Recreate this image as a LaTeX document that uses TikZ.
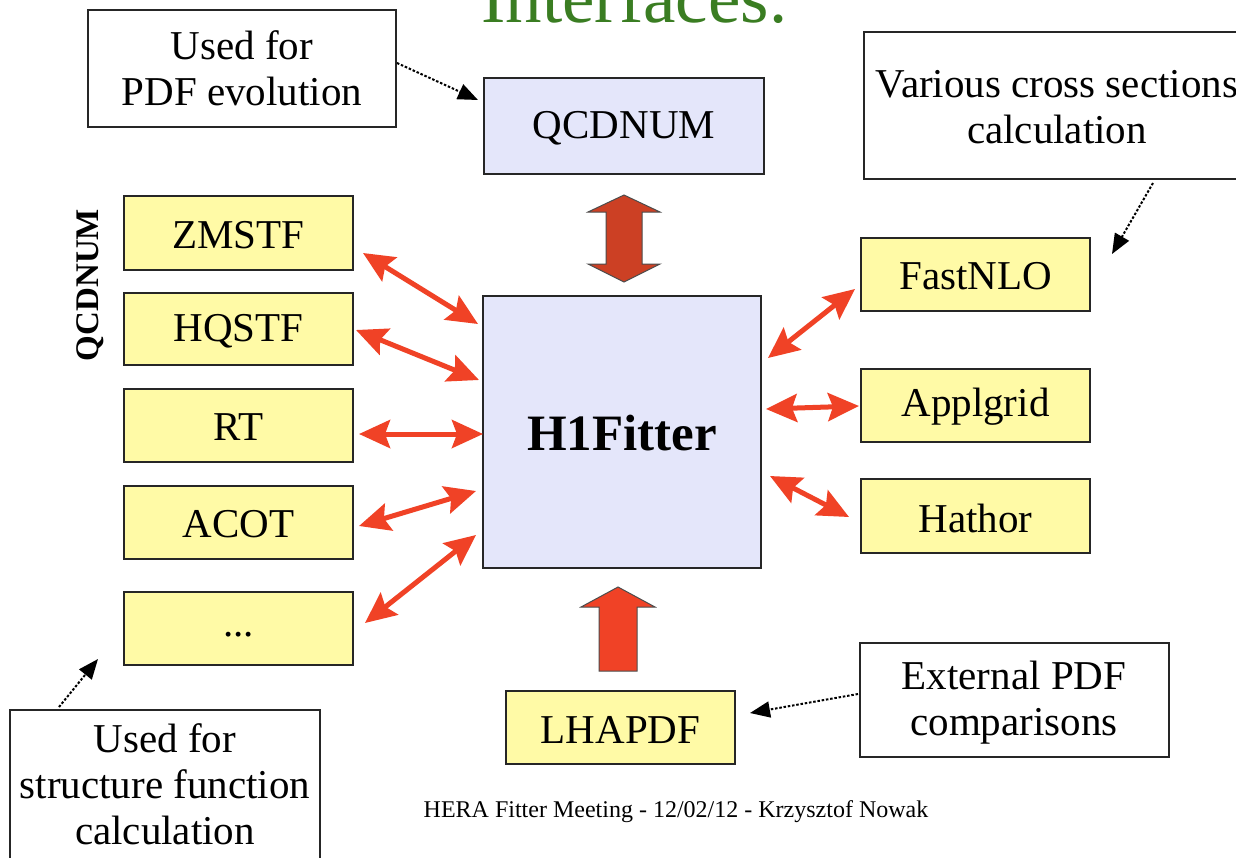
\documentclass[tikz,border=0pt]{standalone}
\usepackage{fontspec}
\setmainfont{Liberation Serif}
\usetikzlibrary{arrows.meta}
\definecolor{boxyellow}{RGB}{255,250,166}
\definecolor{boxblue}{RGB}{228,230,250}
\definecolor{arrred}{RGB}{240,66,38}
\definecolor{darkarr}{RGB}{204,64,36}
\definecolor{titlegreen}{RGB}{58,125,34}
\tikzset{
  box/.style={draw=black!85, line width=1.5pt, inner sep=0pt},
  ybox/.style={box, fill=boxyellow},
  bbox/.style={box, fill=boxblue},
  wbox/.style={box, fill=white},
  txt/.style={font=\fontsize{41}{46}\selectfont, align=center},
  redarr/.style={draw=arrred, line width=5pt, {Stealth[length=31pt,width=28pt,inset=5pt]}-{Stealth[length=31pt,width=28pt,inset=5pt]}},
  dotarr/.style={draw=black, line width=2pt, dash pattern=on 2.5pt off 1.8pt, -{Triangle[length=20pt,width=16pt]}},
}
\begin{document}
\begin{tikzpicture}[x=1pt,y=-1pt]
\useasboundingbox (0,0) rectangle (1236,857);
\clip (0,0) rectangle (1236,857);
\fill[white] (0,0) rectangle (1236,857);

% title (cut at top, as in the reference)
\node[anchor=base west, inner sep=0pt, text=titlegreen, font=\fontsize{73}{80}\selectfont] (title) at (481,22) {Interfaces:};

% white comment boxes
\draw[wbox] (88,10) rectangle (396,127);
\node[txt] (pdfev) at (242,68) {Used for\\PDF evolution};
\draw[wbox] (864,32) rectangle (1250,179);
\node[txt] (various) at (1057,107) {Various cross sections\\calculation};
\draw[wbox] (860,643) rectangle (1169,757);
\node[txt] (extpdf) at (1014,703) {External PDF\\comparisons};
\draw[wbox] (10,710) rectangle (320,880);
\node[txt, anchor=north] (usedsf) at (165,720) {Used for\\structure function\\calculation};

% blue boxes
\draw[bbox] (484,78) rectangle (764,174);
\node[txt] (qcdnum) at (624,128) {QCDNUM};
\draw[bbox] (483,296) rectangle (761,568);
\node[font=\fontsize{51}{56}\selectfont\bfseries] (h1) at (622,433) {H1Fitter};

% yellow boxes left
\draw[ybox] (124,196) rectangle (353,270);
\node[txt] (zmstf) at (238.5,235) {ZMSTF};
\draw[ybox] (124,293) rectangle (353,365);
\node[txt] (hqstf) at (238.5,331) {HQSTF};
\draw[ybox] (124,389) rectangle (353,462);
\node[txt] (rt) at (238.5,427.5) {RT};
\draw[ybox] (124,486) rectangle (353,559);
\node[txt] (acot) at (238.5,524) {ACOT};
\draw[ybox] (124,592) rectangle (353,665);
\node[txt] (dots) at (238.5,635) {...};

% yellow boxes right
\draw[ybox] (861,238) rectangle (1090,311);
\node[txt] (fastnlo) at (975.5,276.5) {FastNLO};
\draw[ybox] (861,369) rectangle (1090,442);
\node[txt] (applgrid) at (975.5,407) {Applgrid};
\draw[ybox] (861,479) rectangle (1090,553);
\node[txt] (hathor) at (975.5,518) {Hathor};
\draw[ybox] (506,691) rectangle (735,764);
\node[txt] (lhapdf) at (620.5,729.5) {LHAPDF};

% rotated label
\node[rotate=90, font=\fontsize{33}{36}\selectfont\bfseries] (qlabel) at (90,285) {QCDNUM};

% red double arrows (endpoints)
\coordinate (a1s) at (363,253); \coordinate (a1e) at (478,324);
\coordinate (a2s) at (356,330); \coordinate (a2e) at (479,380);
\coordinate (a3s) at (359,434); \coordinate (a3e) at (483,434);
\coordinate (a4s) at (359,526); \coordinate (a4e) at (476,491);
\coordinate (a5s) at (365,623); \coordinate (a5e) at (476,535);
\coordinate (a6s) at (768,358); \coordinate (a6e) at (855,289);
\coordinate (a7s) at (766,409); \coordinate (a7e) at (859,406);
\coordinate (a8s) at (770,476); \coordinate (a8e) at (849,517);
\foreach \i in {1,...,8} { \path[redarr] (a\i s) -- (a\i e); }

% big block arrows
\filldraw[fill=darkarr, draw=black!70, line width=1pt]
  (624,195) -- (660,212) -- (642,212) -- (642,264) -- (660,264) -- (624,282)
  -- (588,264) -- (606,264) -- (606,212) -- (588,212) -- cycle;
\filldraw[fill=arrred, draw=black!70, line width=1pt]
  (618,587) -- (655,607) -- (637,607) -- (637,671) -- (599,671) -- (599,607) -- (581,607) -- cycle;

% dotted arrows
\coordinate (d1s) at (397,63);   \coordinate (d1e) at (478,100);
\coordinate (d2s) at (1153,183); \coordinate (d2e) at (1112,254);
\coordinate (d3s) at (858,694);  \coordinate (d3e) at (750,713);
\coordinate (d4s) at (59,707);   \coordinate (d4e) at (98,659);
\foreach \i in {1,...,4} { \path[dotarr] (d\i s) -- (d\i e); }

% footer
\node[font=\fontsize{24}{28}\selectfont] (footer) at (676,812) {HERA Fitter Meeting - 12/02/12 - Krzysztof Nowak};
\end{tikzpicture}
\end{document}
